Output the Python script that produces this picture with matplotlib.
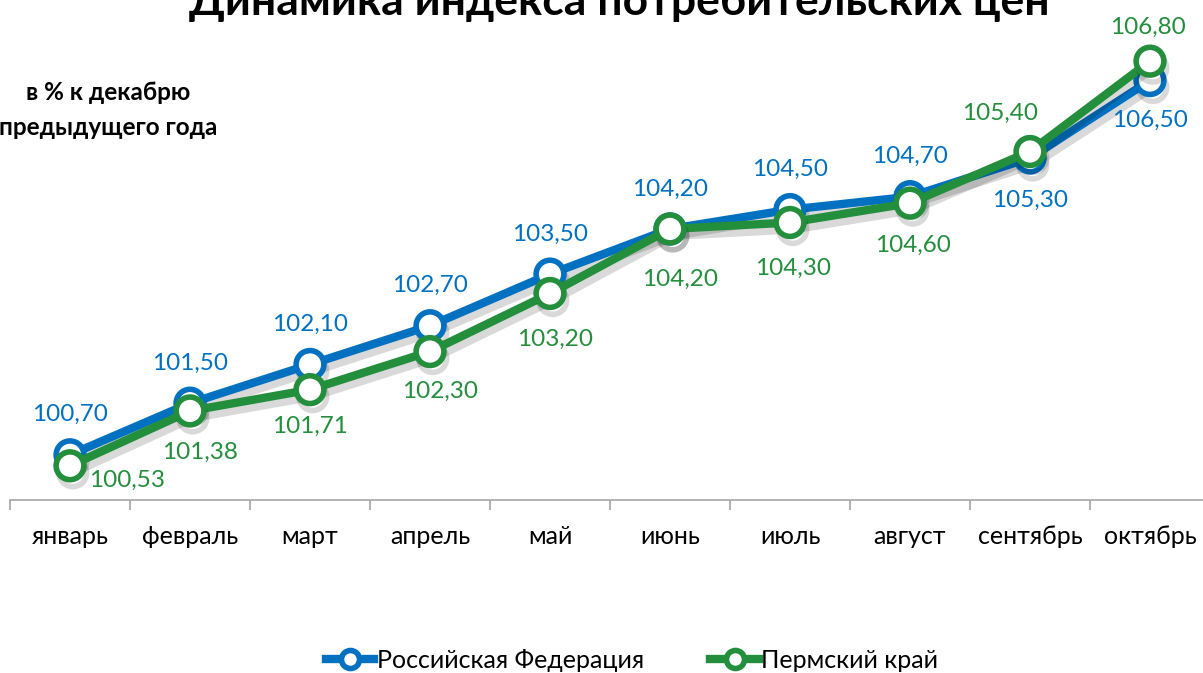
import matplotlib
matplotlib.use("Agg")
import matplotlib.pyplot as plt
import matplotlib.patheffects as pe
from matplotlib.lines import Line2D

plt.rcParams['font.family'] = ['Lato', 'Open Sans', 'DejaVu Sans']

months = ["январь", "февраль", "март", "апрель", "май", "июнь",
          "июль", "август", "сентябрь", "октябрь"]
rf = [100.70, 101.50, 102.10, 102.70, 103.50, 104.20, 104.50, 104.70, 105.30, 106.50]
perm = [100.53, 101.38, 101.71, 102.30, 103.20, 104.20, 104.30, 104.60, 105.40, 106.80]

# label placement: offsets in pixels (dx, dy)
rf_off = [(0, 40)] * 8 + [(0, -42), (0, -40)]
perm_off = [(57, -15), (10, -41), (0, -37), (10, -40), (5, -46), (10, -50),
            (3, -46), (3, -42), (-30, 38), (-2, 34)]

blue = "#0070C0"
green = "#238E3B"

W, H = 1203, 673
fig = plt.figure(figsize=(W / 100, H / 100), dpi=100)
ax = fig.add_axes([10 / W, 1 - 500 / H, 1200 / W, 484 / H])

x = list(range(len(months)))
shadow = [pe.SimpleLineShadow(offset=(2, -5), shadow_color="black", alpha=0.15), pe.Normal()]

ax.plot(x, rf, color=blue, lw=6, marker="o", ms=20, mfc="white", mec=blue, mew=4,
        path_effects=shadow, zorder=3, solid_capstyle="round")
ax.plot(x, perm, color=green, lw=6, marker="o", ms=20, mfc="white", mec=green, mew=4,
        path_effects=shadow, zorder=4, solid_capstyle="round")

for i in x:
    ax.annotate(f"{rf[i]:.2f}".replace(".", ","), (i, rf[i]), xytext=rf_off[i],
                textcoords="offset pixels", ha="center", va="center",
                fontsize=17.5, color=blue, zorder=5)
    ax.annotate(f"{perm[i]:.2f}".replace(".", ","), (i, perm[i]), xytext=perm_off[i],
                textcoords="offset pixels", ha="center", va="center",
                fontsize=17.5, color=green, zorder=5)

ax.set_xlim(-0.5, len(months) - 0.5)
ax.set_ylim(100, 107.5)
ax.set_xticks(x)
ax.set_xticklabels(months, fontsize=18)
ax.set_xticks([i - 0.5 for i in range(len(months) + 1)], minor=True)
ax.tick_params(axis="x", which="major", length=0, pad=18)
ax.tick_params(axis="x", which="minor", length=7, color="#A6A6A6", width=1.2)
ax.set_yticks([])
for s in ["top", "right", "left"]:
    ax.spines[s].set_visible(False)
ax.spines["bottom"].set_color("#A6A6A6")
ax.spines["bottom"].set_linewidth(1.2)

# title is clipped by the top edge, as in the original
fig.text(619 / W, 1 - 2 / H, "Динамика индекса потребительских цен",
         ha="center", va="center", fontsize=32, fontweight="bold")
fig.text(108 / W, 1 - 110 / H, "в % к декабрю\nпредыдущего года",
         ha="center", va="center", fontsize=17.5, fontweight="bold", linespacing=1.68)

handles = [Line2D([], [], color=blue, lw=6, marker="o", ms=13, mfc="white", mec=blue, mew=4),
           Line2D([], [], color=green, lw=6, marker="o", ms=13, mfc="white", mec=green, mew=4)]
fig.legend(handles, ["Российская Федерация", "Пермский край"], loc="center",
           bbox_to_anchor=(632 / W, 1 - 660 / H), ncol=2, frameon=False,
           fontsize=18, handlelength=1.95, handletextpad=0.1, columnspacing=2.65)

fig.savefig("out.png", dpi=100)
